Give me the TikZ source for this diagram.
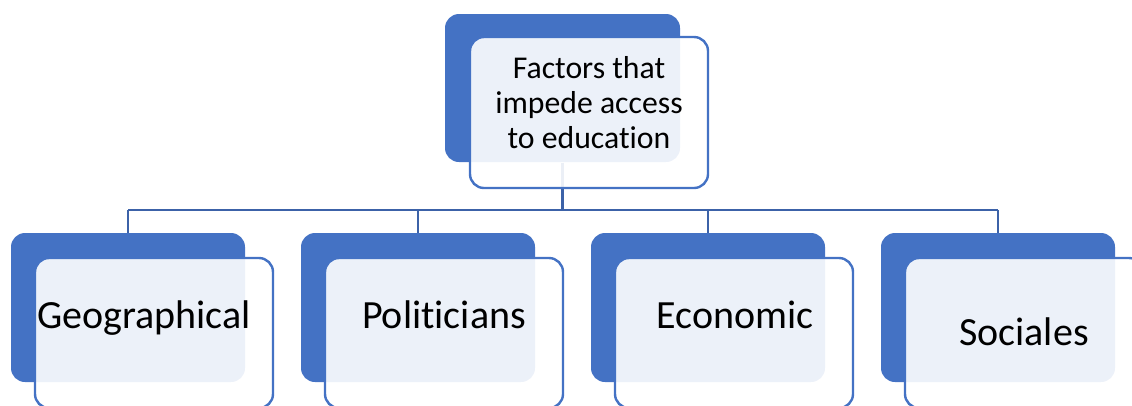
\documentclass[tikz,border=0pt]{standalone}
\usepackage{fontspec}
\setmainfont{Carlito}[Ligatures=NoCommon]
\definecolor{boxblue}{RGB}{68,114,196}
\definecolor{linkblue}{RGB}{60,98,168}

\tikzset{every picture/.style={line width=0.75pt}}
\tikzset{
  backbox/.style={fill=boxblue, rounded corners=10.5pt, inner sep=0pt},
  frontbox/.style={draw=boxblue, line width=1.8pt, fill=white, fill opacity=0.9, rounded corners=10.5pt, inner sep=0pt, minimum width=178.5pt},
  link/.style={draw=linkblue, line width=1.7pt},
  toptext/.style={anchor=base, inner sep=0pt, align=center, font=\fontsize{23.8}{26.25}\selectfont},
  subtext/.style={anchor=base, inner sep=0pt, font=\fontsize{30}{35}\selectfont}
}

\begin{document}
\begin{tikzpicture}[x=0.75pt,y=0.75pt,yscale=-1,xscale=1]
\useasboundingbox (0,0) rectangle (1132,405);
\clip (0,0) rectangle (1132,405);

%Top box (back)
\node [backbox, minimum width=176.25pt, minimum height=111pt] (topb) at (562.5,88) {};

%Connectors
\coordinate (bar) at (562.5,210);
\node [backbox, minimum width=175.5pt, minimum height=111.75pt] (geob) at (128,307.5) {};
\node [backbox, minimum width=175.5pt, minimum height=111.75pt] (polb) at (418,307.5) {};
\node [backbox, minimum width=175.5pt, minimum height=111.75pt] (ecob) at (708,307.5) {};
\node [backbox, minimum width=175.5pt, minimum height=111.75pt] (socb) at (998,307.5) {};
\draw [link] (topb.south) -- (bar);
\draw [link] (geob.north |- bar) -- (socb.north |- bar);
\foreach \n in {geob,polb,ecob,socb}
  \draw [link] (\n.north |- bar) -- (\n.north);

%Front boxes
\node [frontbox, minimum height=113.25pt] (topf) at (589,112.5) {};
\node [frontbox, minimum height=112.5pt] (geof) at (154,333) {};
\node [frontbox, minimum height=112.5pt] (polf) at (444,333) {};
\node [frontbox, minimum height=112.5pt] (ecof) at (734,333) {};
\node [frontbox, minimum height=112.5pt] (socf) at (1024,333) {};

% Text Node
\node [toptext] (toplabel) at (589,148) {Factors that\\impede access\\to education};
% Text Node
\node [subtext] (geolabel) at (144,328) {Geographical};
% Text Node
\node [subtext] (pollabel) at (444,328) {Politicians};
% Text Node
\node [subtext] (ecolabel) at (735,328) {Economic};
% Text Node
\node [subtext] (soclabel) at (1024,345) {Sociales};

\end{tikzpicture}
\end{document}
